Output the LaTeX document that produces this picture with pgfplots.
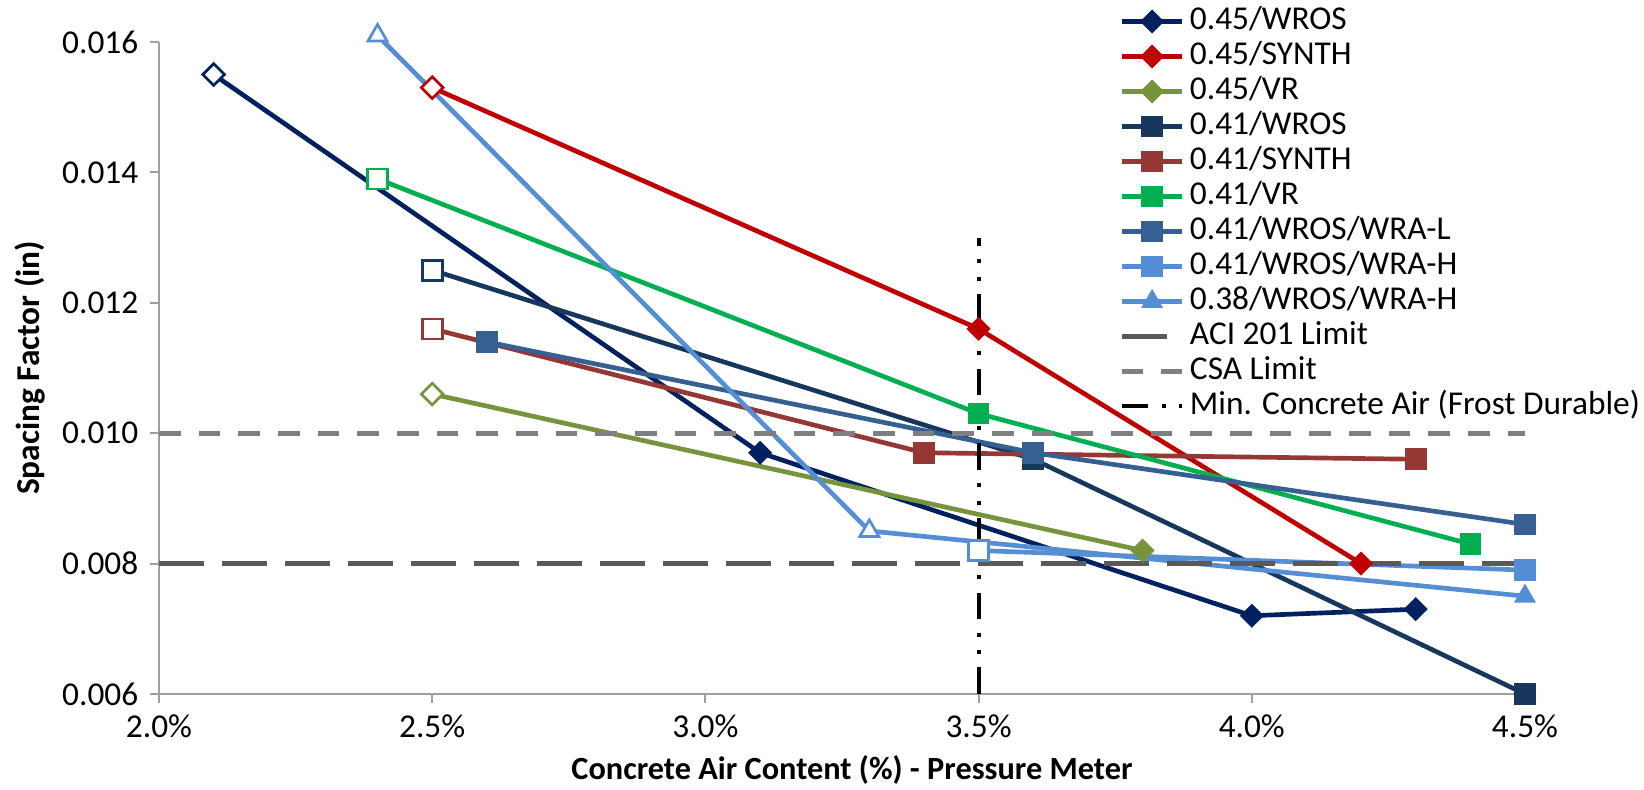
\documentclass[border=0pt]{standalone}
\usepackage{fontspec}
\setmainfont{Carlito}
\usepackage{pgfplots}
\usepackage{pgfplotstable}
\pgfplotsset{compat=1.18}

\definecolor{wrosA}{HTML}{002060}
\definecolor{synthA}{HTML}{C00000}
\definecolor{vrA}{HTML}{77933C}
\definecolor{wrosB}{HTML}{17375E}
\definecolor{synthB}{HTML}{953735}
\definecolor{vrB}{HTML}{00B050}
\definecolor{wraL}{HTML}{376092}
\definecolor{wraH}{HTML}{558ED5}
\definecolor{aci}{HTML}{595959}
\definecolor{csa}{HTML}{7F7F7F}
\definecolor{axisgray}{HTML}{A0A0A0}

% air content (%) vs spacing factor (in)
\pgfplotstableread{
x y
2.1 0.0155
3.1 0.0097
4.0 0.0072
4.3 0.0073
}\tWrosA
\pgfplotstableread{
x y
2.5 0.0153
3.5 0.0116
4.2 0.0080
}\tSynthA
\pgfplotstableread{
x y
2.5 0.0106
3.8 0.0082
}\tVrA
\pgfplotstableread{
x y
2.5 0.0125
3.6 0.0096
4.5 0.0060
}\tWrosB
\pgfplotstableread{
x y
2.5 0.0116
3.4 0.0097
4.3 0.0096
}\tSynthB
\pgfplotstableread{
x y
2.4 0.0139
3.5 0.0103
4.4 0.0083
}\tVrB
\pgfplotstableread{
x y
2.6 0.0114
3.6 0.0097
4.5 0.0086
}\tWraL
\pgfplotstableread{
x y
3.5 0.0082
4.5 0.0079
}\tWraH
\pgfplotstableread{
x y
2.4 0.0161
3.3 0.0085
4.5 0.0075
}\tWraHb

\pgfplotsset{
  ser/.style={line width=1.4pt, color=#1, solid,
    every mark/.append style={solid, fill=#1, draw=#1, line width=0.5pt}},
  hol/.style={only marks, forget plot, color=#1,
    every mark/.append style={solid, fill=white, draw=#1, line width=0.8pt}},
  dmd/.style={mark=square*, mark size=2.3pt, every mark/.append style={rotate=45}},
  sqr/.style={mark=square*, mark size=3pt},
  tri/.style={mark=triangle*, mark size=3.3pt},
}

\begin{document}
\fontsize{10}{12}\selectfont
\begin{tikzpicture}
\path[use as bounding box] (-47.7pt,-28.8pt) rectangle (445.5pt,208.2pt);
\begin{axis}[
    at={(0pt,0pt)}, anchor=south west,
    scale only axis,
    width=409.8pt, height=195.6pt,
    xmin=2.0, xmax=4.5,
    ymin=0.006, ymax=0.016,
    clip=false,
    axis x line*=bottom,
    axis y line*=left,
    axis line style={draw=axisgray, line width=0.6pt},
    tick align=outside,
    major tick length=2.7pt,
    tick style={draw=axisgray, line width=0.6pt},
    xtick={2.0,2.5,3.0,3.5,4.0,4.5},
    ytick={0.006,0.008,0.010,0.012,0.014,0.016},
    scaled y ticks=false,
    /pgf/number format/assume math mode=true,
    xticklabel={\pgfmathprintnumber[fixed,fixed zerofill,precision=1]{\tick}\%},
    yticklabel={\pgfmathprintnumber[fixed,fixed zerofill,precision=3]{\tick}},
    xlabel={\textbf{Concrete Air Content (\%) - Pressure Meter}},
    ylabel={\textbf{Spacing Factor (in)}},
    xlabel style={at={(axis description cs:0.5,0)}, anchor=center,
      yshift=-22.8pt, xshift=3pt, font=\fontsize{9.7}{11}\selectfont},
    ylabel style={at={(axis description cs:0,0.5)}, anchor=center, yshift=38.7pt},
    legend image code/.code={
      \draw[mark indices={2}] plot coordinates {(0cm,0cm) (0.32cm,0cm) (0.64cm,0cm)};},
    legend cell align=left,
    legend style={draw=none, fill=none, inner sep=0pt, outer sep=0pt,
      at={(axis description cs:0.703,1.0557)}, anchor=north west,
      row sep=1pt,
      nodes={inner sep=0pt, text height=7.2pt, text depth=2.3pt},
      /tikz/every odd column/.append style={column sep=1.5pt}},
]

\addplot[ser=wrosA, dmd, mark indices={2,3,4}] table {\tWrosA};
\addlegendentry{0.45/WROS}
\addplot[hol=wrosA, dmd, mark indices={1}] table {\tWrosA};

\addplot[ser=synthA, dmd, mark indices={2,3}] table {\tSynthA};
\addlegendentry{0.45/SYNTH}
\addplot[hol=synthA, dmd, mark indices={1}] table {\tSynthA};

\addplot[ser=vrA, dmd, mark indices={2}] table {\tVrA};
\addlegendentry{0.45/VR}
\addplot[hol=vrA, dmd, mark indices={1}] table {\tVrA};

\addplot[ser=wrosB, sqr, mark indices={2,3}] table {\tWrosB};
\addlegendentry{0.41/WROS}
\addplot[hol=wrosB, sqr, mark indices={1}] table {\tWrosB};

\addplot[ser=synthB, sqr, mark indices={2,3}] table {\tSynthB};
\addlegendentry{0.41/SYNTH}
\addplot[hol=synthB, sqr, mark indices={1}] table {\tSynthB};

\addplot[ser=vrB, sqr, mark indices={2,3}] table {\tVrB};
\addlegendentry{0.41/VR}
\addplot[hol=vrB, sqr, mark indices={1}] table {\tVrB};

\addplot[ser=wraL, sqr] table {\tWraL};
\addlegendentry{0.41/WROS/WRA-L}

\addplot[ser=wraH, sqr, mark indices={2}] table {\tWraH};
\addlegendentry{0.41/WROS/WRA-H}
\addplot[hol=wraH, sqr, mark indices={1}] table {\tWraH};

\addplot[ser=wraH, tri, mark indices={3}] table {\tWraHb};
\addlegendentry{0.38/WROS/WRA-H}
\addplot[hol=wraH, tri, mark indices={1,2}] table {\tWraHb};

% limits
\addplot[aci, line width=1.5pt, dash pattern=on 13.5pt off 5.4pt, no marks] coordinates {(2.0,0.008) (4.5,0.008)};
\addlegendentry{ACI 201 Limit}
\addplot[csa, line width=1.4pt, dash pattern=on 6.5pt off 5.4pt, no marks] coordinates {(2.0,0.010) (4.5,0.010)};
\addlegendentry{CSA Limit}
\addplot[black, line width=1.2pt, dash pattern=on 8pt off 4pt on 1.2pt off 4pt on 1.2pt off 4pt, no marks] coordinates {(3.5,0.006) (3.5,0.013)};
\addlegendentry{Min. Concrete Air (Frost Durable)}

\end{axis}
\end{tikzpicture}
\end{document}
